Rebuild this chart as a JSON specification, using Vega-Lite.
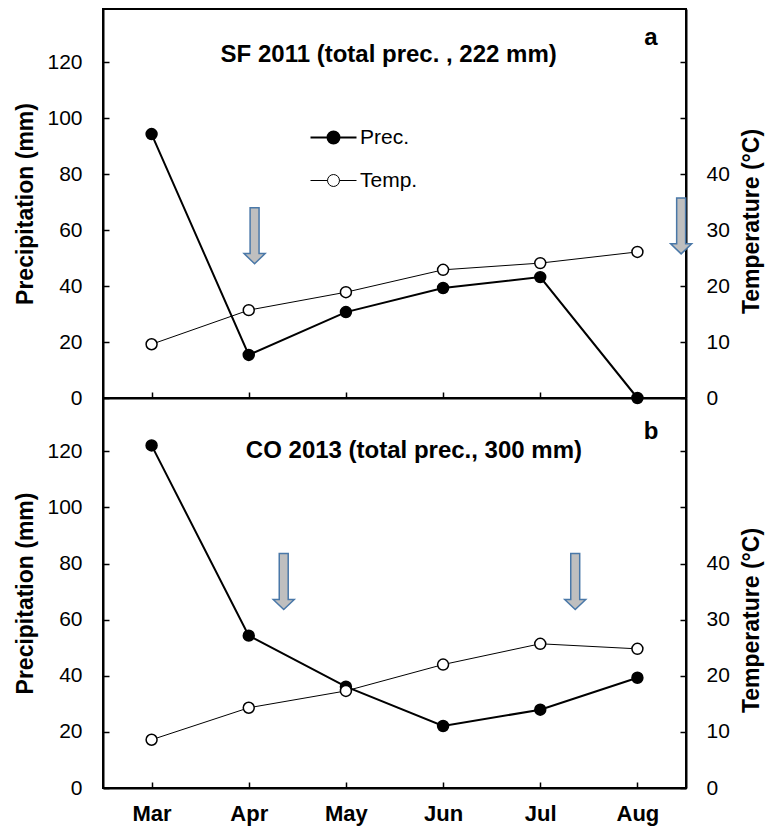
{
  "$schema": "https://vega.github.io/schema/vega-lite/v6.json",
  "background": "white",
  "padding": {"left": 13, "top": 8, "right": 5, "bottom": 5},
  "bounds": "flush",
  "spacing": 0,
  "config": {
    "font": "Liberation Sans",
    "view": {"stroke": "black", "strokeWidth": 2},
    "axis": {"grid": false, "domainColor": "black", "domainWidth": 2, "tickColor": "black", "tickWidth": 1.5, "labelColor": "black", "titleColor": "black", "labelFont": "Liberation Sans", "titleFont": "Liberation Sans"},
    "text": {"font": "Liberation Sans"}
  },
  "datasets": {
    "obs": [
      {"panel": "a", "series": "Prec.", "m": 0, "month": "Mar", "value": 94.3},
      {"panel": "a", "series": "Prec.", "m": 1, "month": "Apr", "value": 15.4},
      {"panel": "a", "series": "Prec.", "m": 2, "month": "May", "value": 30.7},
      {"panel": "a", "series": "Prec.", "m": 3, "month": "Jun", "value": 39.3},
      {"panel": "a", "series": "Prec.", "m": 4, "month": "Jul", "value": 43.2},
      {"panel": "a", "series": "Prec.", "m": 5, "month": "Aug", "value": 0},
      {"panel": "a", "series": "Temp.", "m": 0, "month": "Mar", "value": 9.6},
      {"panel": "a", "series": "Temp.", "m": 1, "month": "Apr", "value": 15.7},
      {"panel": "a", "series": "Temp.", "m": 2, "month": "May", "value": 18.9},
      {"panel": "a", "series": "Temp.", "m": 3, "month": "Jun", "value": 22.9},
      {"panel": "a", "series": "Temp.", "m": 4, "month": "Jul", "value": 24.1},
      {"panel": "a", "series": "Temp.", "m": 5, "month": "Aug", "value": 26.1},
      {"panel": "b", "series": "Prec.", "m": 0, "month": "Mar", "value": 122.1},
      {"panel": "b", "series": "Prec.", "m": 1, "month": "Apr", "value": 54.3},
      {"panel": "b", "series": "Prec.", "m": 2, "month": "May", "value": 36.1},
      {"panel": "b", "series": "Prec.", "m": 3, "month": "Jun", "value": 22.1},
      {"panel": "b", "series": "Prec.", "m": 4, "month": "Jul", "value": 27.9},
      {"panel": "b", "series": "Prec.", "m": 5, "month": "Aug", "value": 39.3},
      {"panel": "b", "series": "Temp.", "m": 0, "month": "Mar", "value": 8.6},
      {"panel": "b", "series": "Temp.", "m": 1, "month": "Apr", "value": 14.3},
      {"panel": "b", "series": "Temp.", "m": 2, "month": "May", "value": 17.3},
      {"panel": "b", "series": "Temp.", "m": 3, "month": "Jun", "value": 22.0},
      {"panel": "b", "series": "Temp.", "m": 4, "month": "Jul", "value": 25.7},
      {"panel": "b", "series": "Temp.", "m": 5, "month": "Aug", "value": 24.8}
    ],
    "arrows": [
      {"panel": "a", "x": 1.06, "y": 58},
      {"panel": "a", "x": 5.45, "y": 61.5},
      {"panel": "b", "x": 1.36, "y": 73.6},
      {"panel": "b", "x": 4.36, "y": 73.6}
    ],
    "notes": [
      {"panel": "a", "x": 2.44, "y": 122.5, "label": "SF 2011 (total prec. , 222 mm)"},
      {"panel": "a", "x": 5.14, "y": 128.5, "label": "a"},
      {"panel": "b", "x": 2.7, "y": 120, "label": "CO 2013 (total prec., 300 mm)"},
      {"panel": "b", "x": 5.14, "y": 127, "label": "b"}
    ]
  },
  "resolve": {"scale": {"fill": "independent"}, "legend": {"fill": "independent"}},
  "vconcat": [
    {
      "width": 583,
      "height": 389,
      "layer": [
        {
          "layer": [
            {
              "data": {"name": "obs"},
              "transform": [{"filter": "datum.panel === 'a' && datum.series === 'Prec.'"}],
              "mark": {"type": "line", "color": "black", "strokeWidth": 2},
              "encoding": {
                "x": {"field": "m", "type": "quantitative", "scale": {"domain": [-0.5, 5.5], "nice": false, "zero": false},
                      "axis": {"values": [0, 1, 2, 3, 4, 5], "labels": false, "tickSize": -6, "title": null}},
                "y": {"field": "value", "type": "quantitative", "scale": {"domain": [0, 139], "nice": false, "zero": true},
                      "axis": {"values": [0, 20, 40, 60, 80, 100, 120], "tickSize": -6, "labelPadding": 27, "labelFontSize": 21, "title": "Precipitation (mm)", "titleFontSize": 23, "titleFontWeight": "bold", "titlePadding": 9}}
              }
            },
            {
              "data": {"name": "obs"},
              "transform": [{"filter": "datum.panel === 'a' && datum.series === 'Prec.'"}],
              "mark": {"type": "point", "filled": true, "size": 120, "stroke": "black", "strokeWidth": 1.5, "opacity": 1},
              "encoding": {
                "x": {"field": "m", "type": "quantitative"},
                "y": {"field": "value", "type": "quantitative"},
                "fill": {"field": "series", "type": "nominal", "scale": {"domain": ["Prec.", "Temp."], "range": ["black", "white"]},
                         "legend": {"orient": "none", "legendX": 220, "legendY": 118, "title": null,
                                    "symbolType": "M-1,0L-0.26,0M0.26,0L1,0M0.26,0A0.26,0.26,0,1,1,-0.26,0A0.26,0.26,0,1,1,0.26,0",
                                    "symbolSize": 2116, "symbolStrokeColor": "black", "symbolStrokeWidth": 1.5, "symbolOpacity": 1,
                                    "labelFontSize": 21, "labelColor": "black", "labelOffset": 16, "rowPadding": 21,
                                    "encode": {"symbols": {"update": {"strokeWidth": {"signal": "datum.value === 'Prec.' ? 2 : 1"}, "stroke": {"value": "black"}}}}}}
              }
            },
            {
              "data": {"name": "arrows"},
              "transform": [{"filter": "datum.panel === 'a'"}],
              "mark": {"type": "point", "shape": "M-0.16,-1L0.16,-1L0.16,0.64L0.375,0.64L0,1L-0.375,0.64L-0.16,0.64Z", "size": 3136, "filled": true, "fill": "#bfbfbf", "stroke": "#4a78a8", "strokeWidth": 1.5, "opacity": 1},
              "encoding": {
                "x": {"field": "x", "type": "quantitative"},
                "y": {"field": "y", "type": "quantitative"}
              }
            },
            {
              "data": {"name": "notes"},
              "transform": [{"filter": "datum.panel === 'a'"}],
              "mark": {"type": "text", "fontSize": 24, "fontWeight": "bold", "color": "black", "align": "center", "baseline": "middle"},
              "encoding": {
                "x": {"field": "x", "type": "quantitative"},
                "y": {"field": "y", "type": "quantitative"},
                "text": {"field": "label"}
              }
            }
          ]
        },
        {
          "layer": [
            {
              "data": {"name": "obs"},
              "transform": [{"filter": "datum.panel === 'a' && datum.series === 'Temp.'"}],
              "mark": {"type": "line", "color": "black", "strokeWidth": 1},
              "encoding": {
                "x": {"field": "m", "type": "quantitative"},
                "y": {"field": "value", "type": "quantitative", "scale": {"domain": [0, 69.5], "nice": false, "zero": true},
                      "axis": {"orient": "right", "values": [0, 10, 20, 30, 40, 50, 60], "labelExpr": "datum.value <= 40 ? datum.label : ''", "tickSize": -6, "labelPadding": 26, "labelFontSize": 21, "title": "Temperature (°C)", "titleFontSize": 23, "titleFontWeight": "bold", "titleAngle": 270, "titleX": 65, "titleY": 212, "titleAlign": "center", "titleBaseline": "middle"}}
              }
            },
            {
              "data": {"name": "obs"},
              "transform": [{"filter": "datum.panel === 'a' && datum.series === 'Temp.'"}],
              "mark": {"type": "point", "filled": true, "size": 120, "stroke": "black", "strokeWidth": 1.5, "opacity": 1},
              "encoding": {
                "x": {"field": "m", "type": "quantitative"},
                "y": {"field": "value", "type": "quantitative"},
                "fill": {"field": "series", "type": "nominal"}
              }
            }
          ]
        }
      ],
      "resolve": {"scale": {"y": "independent"}}
    },
    {
      "width": 583,
      "height": 390,
      "layer": [
        {
          "layer": [
            {
              "data": {"name": "obs"},
              "transform": [{"filter": "datum.panel === 'b' && datum.series === 'Prec.'"}],
              "mark": {"type": "line", "color": "black", "strokeWidth": 2},
              "encoding": {
                "x": {"field": "m", "type": "quantitative", "scale": {"domain": [-0.5, 5.5], "nice": false, "zero": false},
                      "axis": {"values": [0, 1, 2, 3, 4, 5], "labelExpr": "['Mar','Apr','May','Jun','Jul','Aug'][datum.value]", "labelFontSize": 22, "labelFontWeight": "bold", "labelPadding": 21, "tickSize": -6, "title": null}},
                "y": {"field": "value", "type": "quantitative", "scale": {"domain": [0, 139], "nice": false, "zero": true},
                      "axis": {"values": [0, 20, 40, 60, 80, 100, 120], "tickSize": -6, "labelPadding": 27, "labelFontSize": 21, "title": "Precipitation (mm)", "titleFontSize": 23, "titleFontWeight": "bold", "titlePadding": 9}}
              }
            },
            {
              "data": {"name": "obs"},
              "transform": [{"filter": "datum.panel === 'b' && datum.series === 'Prec.'"}],
              "mark": {"type": "point", "filled": true, "size": 120, "stroke": "black", "strokeWidth": 1.5, "opacity": 1},
              "encoding": {
                "x": {"field": "m", "type": "quantitative"},
                "y": {"field": "value", "type": "quantitative"},
                "fill": {"field": "series", "type": "nominal", "scale": {"domain": ["Prec.", "Temp."], "range": ["black", "white"]}, "legend": null}
              }
            },
            {
              "data": {"name": "arrows"},
              "transform": [{"filter": "datum.panel === 'b'"}],
              "mark": {"type": "point", "shape": "M-0.16,-1L0.16,-1L0.16,0.64L0.375,0.64L0,1L-0.375,0.64L-0.16,0.64Z", "size": 3136, "filled": true, "fill": "#bfbfbf", "stroke": "#4a78a8", "strokeWidth": 1.5, "opacity": 1},
              "encoding": {
                "x": {"field": "x", "type": "quantitative"},
                "y": {"field": "y", "type": "quantitative"}
              }
            },
            {
              "data": {"name": "notes"},
              "transform": [{"filter": "datum.panel === 'b'"}],
              "mark": {"type": "text", "fontSize": 24, "fontWeight": "bold", "color": "black", "align": "center", "baseline": "middle"},
              "encoding": {
                "x": {"field": "x", "type": "quantitative"},
                "y": {"field": "y", "type": "quantitative"},
                "text": {"field": "label"}
              }
            }
          ]
        },
        {
          "layer": [
            {
              "data": {"name": "obs"},
              "transform": [{"filter": "datum.panel === 'b' && datum.series === 'Temp.'"}],
              "mark": {"type": "line", "color": "black", "strokeWidth": 1},
              "encoding": {
                "x": {"field": "m", "type": "quantitative"},
                "y": {"field": "value", "type": "quantitative", "scale": {"domain": [0, 69.5], "nice": false, "zero": true},
                      "axis": {"orient": "right", "values": [0, 10, 20, 30, 40, 50, 60], "labelExpr": "datum.value <= 40 ? datum.label : ''", "tickSize": -6, "labelPadding": 26, "labelFontSize": 21, "title": "Temperature (°C)", "titleFontSize": 23, "titleFontWeight": "bold", "titleAngle": 270, "titleX": 65, "titleY": 222, "titleAlign": "center", "titleBaseline": "middle"}}
              }
            },
            {
              "data": {"name": "obs"},
              "transform": [{"filter": "datum.panel === 'b' && datum.series === 'Temp.'"}],
              "mark": {"type": "point", "filled": true, "size": 120, "stroke": "black", "strokeWidth": 1.5, "opacity": 1},
              "encoding": {
                "x": {"field": "m", "type": "quantitative"},
                "y": {"field": "value", "type": "quantitative"},
                "fill": {"field": "series", "type": "nominal"}
              }
            }
          ]
        }
      ],
      "resolve": {"scale": {"y": "independent"}}
    }
  ]
}
